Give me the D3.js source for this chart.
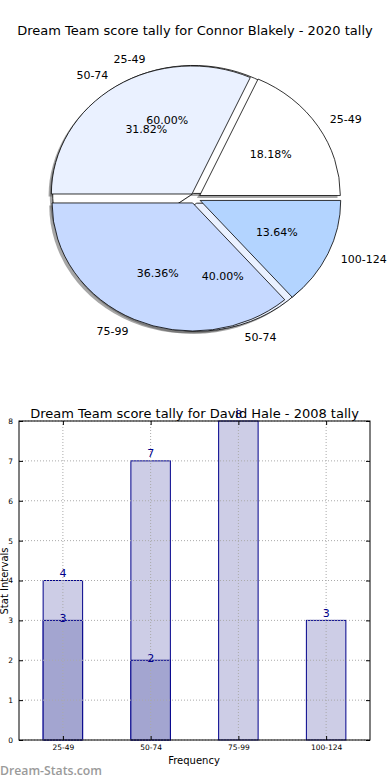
<!DOCTYPE html>
<html><head><meta charset="utf-8">
<script src="https://cdn.jsdelivr.net/npm/d3@7"></script>
<style>body{margin:0;background:#fff}svg{display:block;font-family:"DejaVu Sans",sans-serif}</style>
</head><body><svg id="c" width="390" height="780"></svg>
<script>
const categories = ["25-49","50-74","75-99","100-124"];
const pieValuesA = [4,7,8,3];          // top layer pie
const pieLabelsB = ["25-49","50-74"];
const pieValuesB = [3,2];              // under layer pie
const pieColors = ["#ffffff","#eaf1ff","#c6d9ff","#b3d4ff"];
const barTotals = [4,7,8,3];
const barInner = [3,2,0,0];
const yTicks = [0,1,2,3,4,5,6,7,8];
const pieTitle = "Dream Team score tally for Connor Blakely - 2020 tally";
const barTitle = "Dream Team score tally for David Hale - 2008 tally";

const svg = d3.select("#c");
// ---------- PIE ----------
svg.append("text").attr("x",195).attr("y",35).attr("text-anchor","middle")
  .attr("font-size",13).text(pieTitle);

const cx=195, cy=198.3, sx=140.6, sy=128, ex=0.04;
const pie = d3.pie().sort(null).startAngle(Math.PI/2).endAngle(Math.PI/2-2*Math.PI);
const arc = d3.arc().innerRadius(0).outerRadius(1);
const arcsA = pie(pieValuesA), arcsB = pie(pieValuesB);
const mid = d => (d.startAngle+d.endAngle)/2;
const root = svg.append("g").attr("transform",`translate(${cx},${cy})`);
const unit = root.append("g").attr("transform",`scale(${sx},${sy})`);
function off(d,r){const m=mid(d);return [Math.sin(m)*r,-Math.cos(m)*r];}
// shadows
[arcsB,arcsA].forEach((arcs)=>{
  arcs.forEach((d,i)=>{
    const o=off(d,ex);
    unit.append("path").attr("d",arc(d))
      .attr("transform",`translate(${o[0]-0.02},${o[1]+0.02})`)
      .attr("fill","#4d4d4d").attr("opacity",0.5);
  });
});
// wedges
[[arcsB,pieColors],[arcsA,pieColors]].forEach(([arcs,cols])=>{
  arcs.forEach((d,i)=>{
    const o=off(d,ex);
    unit.append("path").attr("d",arc(d))
      .attr("transform",`translate(${o[0]},${o[1]})`)
      .attr("fill",cols[i]).attr("stroke","#000").attr("stroke-width",0.8)
      .attr("vector-effect","non-scaling-stroke");
  });
});
function labels(arcs,names,vals){
  const tot=d3.sum(vals);
  arcs.forEach((d,i)=>{
    const m=mid(d), s=Math.sin(m), c=-Math.cos(m);
    const lx=s*(1.1+ex)*sx, ly=c*(1.1+ex)*sy;
    root.append("text").attr("x",lx).attr("y",ly).attr("dy","0.35em")
      .attr("text-anchor", lx>0?"start":"end").attr("font-size",11).text(names[i]);
    const px=s*(0.6+ex)*sx, py=c*(0.6+ex)*sy;
    root.append("text").attr("x",px).attr("y",py).attr("dy","0.35em")
      .attr("text-anchor","middle").attr("font-size",11)
      .text((vals[i]/tot*100).toFixed(2)+"%");
  });
}
labels(arcsB,pieLabelsB,pieValuesB);
labels(arcsA,categories,pieValuesA);

// ---------- BAR ----------
const L=19,R=370,T=421,B=740;
const x = d3.scaleLinear().domain([-0.5,3.5]).range([L,R]);
const y = d3.scaleLinear().domain([0,8]).range([B,T]);
const bw = 0.45*(x(1)-x(0));
const g = svg.append("g");
g.append("rect").attr("x",L).attr("y",T).attr("width",R-L).attr("height",B-T).attr("fill","#fff");
g.selectAll(".bt").data(barTotals).join("rect")
  .attr("x",(d,i)=>x(i)-bw/2).attr("y",d=>y(d)).attr("width",bw).attr("height",d=>B-y(d))
  .attr("fill","#cdcde6").attr("stroke","#00008b").attr("stroke-width",1);
g.selectAll(".bi").data(barInner).join("rect")
  .attr("x",(d,i)=>x(i)-bw/2).attr("y",d=>y(d)).attr("width",bw).attr("height",d=>B-y(d))
  .attr("fill","#a3a5d0").attr("stroke",d=>d>0?"#00008b":"none").attr("stroke-width",1);
// grid
const grid=g.append("g").attr("stroke","#aaa").attr("stroke-width",1).attr("stroke-dasharray","1,2");
yTicks.forEach(t=>grid.append("line").attr("x1",L).attr("x2",R).attr("y1",y(t)).attr("y2",y(t)));
categories.forEach((c,i)=>grid.append("line").attr("x1",x(i)).attr("x2",x(i)).attr("y1",T).attr("y2",B));
// frame
g.append("rect").attr("x",L).attr("y",T).attr("width",R-L).attr("height",B-T)
  .attr("fill","none").attr("stroke","#000").attr("stroke-width",1);
// axes
const ya = g.append("g").attr("transform",`translate(${L},0)`)
  .call(d3.axisLeft(y).tickValues(yTicks).tickFormat(d3.format("d")).tickSizeInner(-4).tickSizeOuter(0).tickPadding(6));
const ya2 = g.append("g").attr("transform",`translate(${R},0)`)
  .call(d3.axisRight(y).tickValues(yTicks).tickFormat("").tickSizeInner(-4).tickSizeOuter(0));
const xa = g.append("g").attr("transform",`translate(0,${B})`)
  .call(d3.axisBottom(x).tickValues([0,1,2,3]).tickFormat((d)=>categories[d]).tickSizeInner(-4).tickSizeOuter(0).tickPadding(5));
const xa2 = g.append("g").attr("transform",`translate(0,${T})`)
  .call(d3.axisTop(x).tickValues([0,1,2,3]).tickFormat("").tickSizeInner(-4).tickSizeOuter(0));
[ya,ya2,xa,xa2].forEach(a=>{a.select(".domain").remove();a.selectAll("text").attr("font-size",7.5).attr("font-family","DejaVu Sans").attr("fill","#000");});
// value labels
g.selectAll(".vt").data(barTotals).join("text")
  .attr("x",(d,i)=>x(i)).attr("y",d=>y(d)-3.5).attr("text-anchor","middle")
  .attr("font-size",11).attr("fill","#00008b").text(d=>d);
g.selectAll(".vi").data(barInner.filter(d=>d>0)).join("text")
  .attr("x",(d,i)=>x(i)).attr("y",d=>y(d)+2).attr("text-anchor","middle")
  .attr("font-size",11).attr("fill","#00008b").text(d=>d);
svg.append("text").attr("x",194.5).attr("y",418).attr("text-anchor","middle")
  .attr("font-size",13).text(barTitle);
svg.append("text").attr("transform","translate(8,581) rotate(-90)").attr("text-anchor","middle")
  .attr("font-size",10).text("Stat Intervals");
svg.append("text").attr("x",194).attr("y",764).attr("text-anchor","middle")
  .attr("font-size",10).text("Frequency");
svg.append("text").attr("x",0).attr("y",775).attr("font-size",12.5).attr("font-weight",600)
  .attr("font-family","'Open Sans',sans-serif")
  .attr("textLength",102).attr("lengthAdjust","spacingAndGlyphs")
  .attr("fill","#9a9a9a").text("Dream-Stats.com");
</script></body></html>
